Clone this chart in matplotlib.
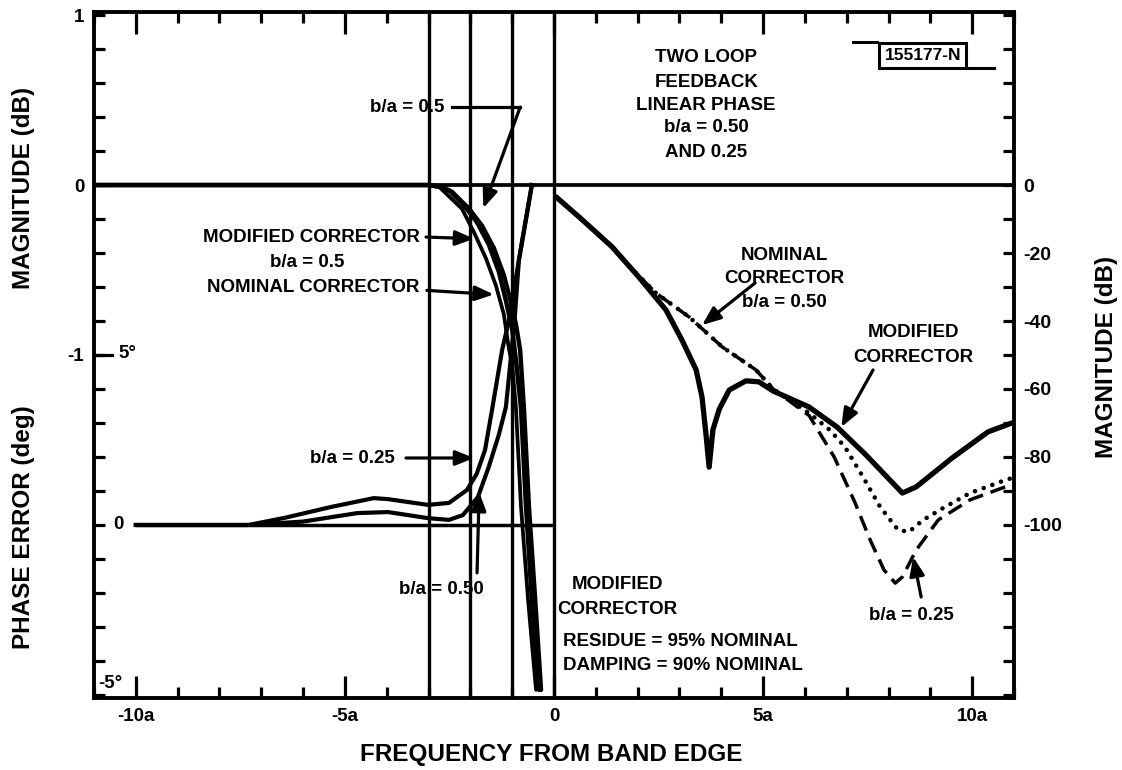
import matplotlib
matplotlib.use("Agg")
import matplotlib.pyplot as plt
from matplotlib.ticker import FixedLocator, MultipleLocator

plt.rcParams['font.family'] = ['Liberation Sans', 'DejaVu Sans']
plt.rcParams['font.weight'] = 'bold'

# ---------------- data ----------------
# frequency axis in units of a
x_tick_vals = [-10, -5, 0, 5, 10]
x_tick_labels = ["-10a", "-5a", "0", "5a", "10a"]
edge_lines = [-3, -2, -1, 0]

# left magnitude (dB), pass band side
mag_ticks = [1, 0, -1]
mag_labels = ["1", "0", "-1"]
magA_x = [-11, -3.0, -2.75, -2.44, -2.03, -1.72, -1.44, -1.20, -1.03, -0.91, -0.81, -0.72, -0.60, -0.45, -0.31]
magA_db = [0, 0, -0.01, -0.04, -0.14, -0.24, -0.37, -0.53, -0.69, -0.82, -0.97, -1.31, -1.89, -2.44, -2.97]
magB_x = [-11, -3.0, -2.75, -2.51, -2.15, -1.84, -1.56, -1.32, -1.15, -1.00, -0.91, -0.79, -0.67, -0.53, -0.36]
magB_db = [0, 0, -0.01, -0.03, -0.12, -0.22, -0.35, -0.51, -0.68, -0.85, -1.03, -1.31, -1.89, -2.44, -2.97]
magC_x = [-11, -3.0, -2.75, -2.20, -1.91, -1.63, -1.39, -1.20, -1.08, -1.00, -0.91, -0.79, -0.62, -0.43]
magC_db = [0, 0, -0.01, -0.14, -0.28, -0.43, -0.59, -0.76, -0.96, -1.06, -1.31, -1.89, -2.44, -2.97]

# phase error (deg)
ph25_x = [-10, -7.3, -6.44, -5.33, -4.31, -3.97, -3.01, -2.51, -2.08, -1.85, -1.65, -1.48, -1.24, -1.08, -0.84, -0.53]
ph25_deg = [0, 0, 0.21, 0.53, 0.79, 0.76, 0.59, 0.65, 1.03, 1.5, 2.2, 3.4, 5.15, 6.0, 7.79, 10.0]
ph50_x = [-10, -7.3, -6.0, -4.70, -3.97, -3.01, -2.51, -2.18, -1.82, -1.56, -1.32, -1.15, -1.03, -0.95, -0.84, -0.53]
ph50_deg = [0, 0, 0.1, 0.35, 0.38, 0.2, 0.15, 0.29, 0.82, 1.71, 2.65, 3.47, 4.94, 5.9, 7.79, 10.0]

# right magnitude (dB), stop band side
db_ticks = [0, -20, -40, -60, -80, -100]
mod_x = [0.05, 0.6, 1.39, 2.03, 2.68, 3.06, 3.40, 3.54, 3.64, 3.71, 3.80, 3.95, 4.19, 4.59, 4.90, 5.24,
         6.10, 6.77, 7.46, 8.33, 8.66, 9.52, 10.38, 10.95]
mod_db = [-3.5, -9.4, -18.2, -27.1, -36.8, -45.6, -54.4, -62.4, -74, -83, -72, -66, -60.3, -57.6, -57.9, -60.6,
          -65.3, -71.2, -79.4, -90.6, -88.8, -80.3, -72.6, -70.0]
nom50_x = [0.05, 0.6, 1.39, 1.72, 2.44, 3.23, 4.02, 4.83, 5.24, 6.10, 6.60, 6.96, 7.39, 7.80, 8.23, 8.49,
           8.83, 9.35, 9.95, 10.79, 10.95]
nom50_db = [-3.5, -9.4, -18.2, -22.9, -31.8, -38.8, -47.6, -54.4, -60.0, -67.1, -72.1, -77.1, -85.9, -94.7,
            -101.5, -102.0, -98.5, -94.7, -90.6, -86.8, -86.2]
nom25_x = [0.05, 0.6, 1.39, 1.72, 2.44, 3.23, 4.02, 4.83, 5.24, 6.10, 6.70, 7.20, 7.56, 7.89, 8.16, 8.33,
           8.66, 9.19, 9.95, 10.79, 10.95]
nom25_db = [-3.5, -9.4, -18.2, -22.9, -31.8, -38.8, -47.6, -54.4, -60.0, -67.8, -80.0, -93.5, -104.4, -113.2,
            -117.1, -115.3, -107.4, -98.5, -92.6, -88.8, -88.2]

# ---------------- figure ----------------
W, H = 1122, 770
fig = plt.figure(figsize=(W / 100, H / 100), dpi=100)
fig.patch.set_facecolor('white')
L, R, T, B = 94, 1014, 12, 698
ax = fig.add_axes([L / W, 1 - B / H, (R - L) / W, (B - T) / H])
ax_ph = ax.twinx()
ax_db = ax.twinx()

ax.set_xlim(-11, 11)
ax.set_ylim(-3.018, 1.018)
ax_ph.set_ylim(-5.09, 15.09)
ax_db.set_ylim(-150.9, 50.9)

K = 'black'
for s in ax.spines.values():
    s.set_linewidth(2.8)
for a in (ax_ph, ax_db):
    for s in a.spines.values():
        s.set_visible(False)

# x ticks
ax.xaxis.set_major_locator(FixedLocator(x_tick_vals))
ax.set_xticklabels(x_tick_labels)
ax.xaxis.set_minor_locator(MultipleLocator(1))
ax.tick_params(axis='x', which='both', direction='in', top=True, bottom=True, width=2.3,
               labelsize=13.5, pad=7)
ax.tick_params(axis='x', which='major', length=16)
ax.tick_params(axis='x', which='minor', length=8)

# left ticks (magnitude dB)
ax.yaxis.set_major_locator(FixedLocator(mag_ticks))
ax.set_yticklabels(mag_labels)
ax.yaxis.set_minor_locator(MultipleLocator(0.2))
ax.tick_params(axis='y', which='both', direction='in', left=True, right=False, width=2.3,
               length=8, labelsize=13.5, pad=7)

# phase axis: no ticks (labels drawn inside)
ax_ph.tick_params(axis='y', which='both', right=False, labelright=False)

# right ticks (dB)
ax_db.yaxis.set_major_locator(FixedLocator(db_ticks))
ax_db.set_yticklabels([str(v) for v in db_ticks])
ax_db.yaxis.set_minor_locator(MultipleLocator(10))
ax_db.tick_params(axis='y', which='both', direction='in', right=True, width=2.3, length=8,
                  labelsize=14, pad=7)

# reference lines
for xv in edge_lines:
    ax.axvline(xv, color=K, lw=2.4, zorder=1)
ax.axhline(0, color=K, lw=2.7, zorder=1)
ax_ph.hlines(0, -10, 0, color=K, lw=2.5)

# magnitude curves (left)
ax.plot(magA_x, magA_db, color=K, lw=3.2, solid_joinstyle='round', solid_capstyle='round')
ax.plot(magB_x, magB_db, color=K, lw=3.2, solid_joinstyle='round', solid_capstyle='round')
ax.plot(magC_x, magC_db, color=K, lw=2.7, solid_joinstyle='round', solid_capstyle='round')

# phase curves
ax_ph.plot(ph25_x, ph25_deg, color=K, lw=3.0, solid_joinstyle='round')
ax_ph.plot(ph50_x, ph50_deg, color=K, lw=3.0, solid_joinstyle='round')

# stop band curves (right)
ax_db.plot(mod_x, mod_db, color=K, lw=3.8, solid_joinstyle='round', solid_capstyle='round')
ax_db.plot(nom50_x, nom50_db, color=K, lw=3.3, linestyle=(0, (0.01, 2.0)), dash_capstyle='round')
ax_db.plot(nom25_x, nom25_db, color=K, lw=2.5, linestyle=(0, (4.5, 2.3)), dash_capstyle='butt')

# phase tick labels inside the frame
fs = 13.5
ax_ph.plot([0, 0.02], [5, 5], transform=ax_ph.get_yaxis_transform(), color=K, lw=2.3, clip_on=False)
ax_ph.text(-10.42, 5.05, "5°", ha='left', va='center', fontsize=13.5)
ax_ph.text(-10.41, 0.0, "0", ha='center', va='center', fontsize=13.5)
ax_ph.text(-10.9, -4.65, "-5°", ha='left', va='center', fontsize=13.5)

# annotations
arw = dict(arrowstyle='-|>,head_length=0.7,head_width=0.28', color=K, lw=2.3,
           shrinkA=0, shrinkB=0, mutation_scale=16)

def note(xy, xytext):
    ax_ph.annotate("", xy=xy, xytext=xytext, arrowprops=arw)

ax_ph.text(-2.61, 12.29, "b/a = 0.5", ha='right', va='center', fontsize=fs)
ax_ph.plot([-2.45, -0.81], [12.29, 12.29], color=K, lw=2.3)
note((-1.69, 9.32), (-0.81, 12.29))

ax_ph.text(-3.21, 8.47, "MODIFIED CORRECTOR", ha='right', va='center', fontsize=fs)
note((-1.91, 8.42), (-3.06, 8.47))
ax_ph.text(-5.91, 7.71, "b/a = 0.5", ha='center', va='center', fontsize=fs)
ax_ph.text(-3.21, 7.0, "NOMINAL CORRECTOR", ha='right', va='center', fontsize=fs)
note((-1.44, 6.78), (-3.04, 6.9))

ax_ph.text(-3.80, 1.97, "b/a = 0.25", ha='right', va='center', fontsize=fs)
note((-1.91, 1.97), (-3.54, 1.97))
ax_ph.text(-2.70, -1.91, "b/a = 0.50", ha='center', va='center', fontsize=fs)
note((-1.79, 0.97), (-1.84, -1.41))

ax_ph.text(1.51, -1.76, "MODIFIED", ha='center', va='center', fontsize=fs)
ax_ph.text(1.51, -2.50, "CORRECTOR", ha='center', va='center', fontsize=fs)
ax_ph.text(0.22, -3.44, "RESIDUE = 95% NOMINAL", ha='left', va='center', fontsize=fs)
ax_ph.text(0.22, -4.12, "DAMPING = 90% NOMINAL", ha='left', va='center', fontsize=fs)

ax_ph.text(5.50, 7.94, "NOMINAL", ha='center', va='center', fontsize=fs)
ax_ph.text(5.50, 7.24, "CORRECTOR", ha='center', va='center', fontsize=fs)
ax_ph.text(5.50, 6.53, "b/a = 0.50", ha='center', va='center', fontsize=fs)
note((3.54, 5.88), (4.81, 7.12))

ax_ph.text(8.59, 5.65, "MODIFIED", ha='center', va='center', fontsize=fs)
ax_ph.text(8.59, 4.94, "CORRECTOR", ha='center', va='center', fontsize=fs)
note((6.87, 2.88), (7.63, 4.56))

ax_ph.text(8.54, -2.65, "b/a = 0.25", ha='center', va='center', fontsize=fs)
note((8.59, -0.94), (8.78, -2.12))

title_lines = ["TWO LOOP", "FEEDBACK", "LINEAR PHASE", "b/a = 0.50", "AND 0.25"]
title_y = [13.76, 13.03, 12.35, 11.68, 10.97]
for t, yv in zip(title_lines, title_y):
    ax_ph.text(3.64, yv, t, ha='center', va='center', fontsize=fs)

# figure number box
ax_ph.text(8.82, 13.81, "155177-N", ha='center', va='center', fontsize=12.5,
           bbox=dict(boxstyle='square,pad=0.3', fc='white', ec=K, lw=2.2))
ax_ph.plot([7.15, 7.72], [14.20, 14.20], color=K, lw=2.2)
ax_ph.plot([9.92, 10.52], [13.43, 13.43], color=K, lw=2.2)

# axis titles
fig.text(551 / W, 1 - 754 / H, "FREQUENCY FROM BAND EDGE", ha='center', va='center', fontsize=17.5)
fig.text(24 / W, 1 - 188 / H, "MAGNITUDE (dB)", ha='center', va='center', rotation=90, fontsize=17.5)
fig.text(24 / W, 1 - 527 / H, "PHASE ERROR (deg)", ha='center', va='center', rotation=90, fontsize=17.5)
fig.text(1106 / W, 1 - 357 / H, "MAGNITUDE (dB)", ha='center', va='center', rotation=90, fontsize=17.5)

fig.savefig("out.png", dpi=100, facecolor='white')
